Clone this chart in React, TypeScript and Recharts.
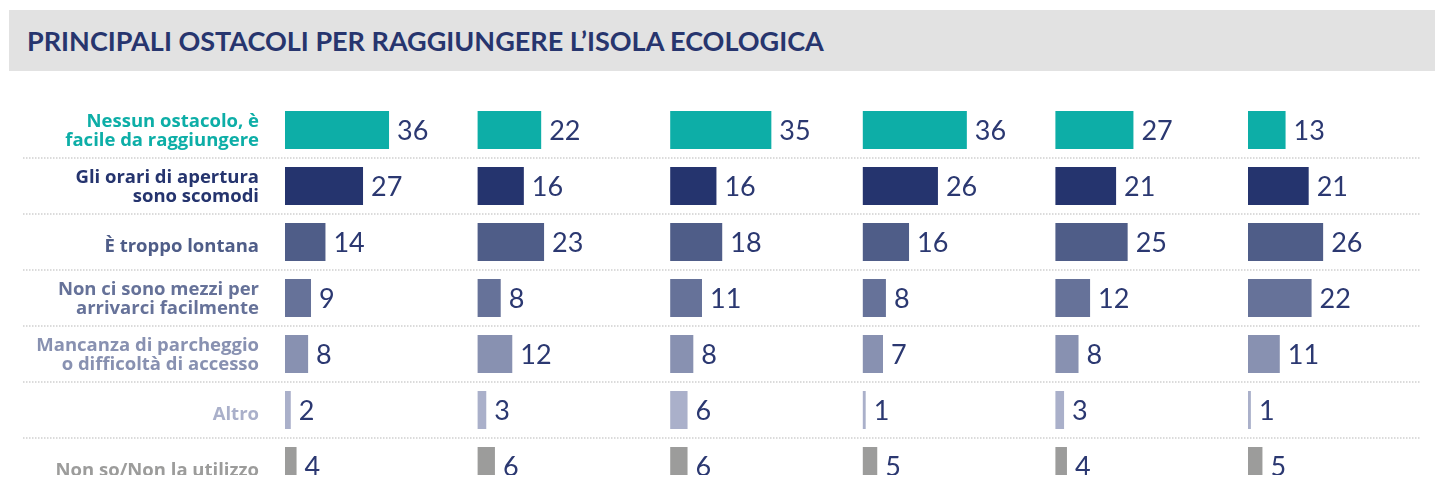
import { Bar, BarChart, CartesianGrid, Cell, LabelList, XAxis, YAxis } from "recharts";

// Obstacle categories (rows), "\n" splits the two-line labels
const CATEGORIES = [
  "Nessun ostacolo, è\nfacile da raggiungere",
  "Gli orari di apertura\nsono scomodi",
  "È troppo lontana",
  "Non ci sono mezzi per\narrivarci facilmente",
  "Mancanza di parcheggio\no difficoltà di accesso",
  "Altro",
  "Non so/Non la utilizzo",
];

// One array per column group, values in %
const COL_1 = [36, 27, 14, 9, 8, 2, 4];
const COL_2 = [22, 16, 23, 8, 12, 3, 6];
const COL_3 = [35, 16, 18, 11, 8, 6, 6];
const COL_4 = [36, 26, 16, 8, 7, 1, 5];
const COL_5 = [27, 21, 25, 12, 8, 3, 4];
const COL_6 = [13, 21, 26, 22, 11, 1, 5];
const COLUMNS = [COL_1, COL_2, COL_3, COL_4, COL_5, COL_6];

const ROW_COLORS = ["#0daea7", "#25346e", "#4f5d88", "#667299", "#8891b1", "#aab0ca", "#9c9c9b"];
const VALUE_COLOR = "#2b3871";
const TITLE_COLOR = "#27356e";
const FONT = "Lato, 'Open Sans', sans-serif";
const LABEL_FONT = "'Open Sans', Lato, sans-serif";

// layout in pixels, converted to axis units below
const W = 1435;
const PLOT_LEFT = 22;
const PLOT_RIGHT = 15;
const PX_PER_UNIT = 2.89;
const FIRST_COL_PX = 262; // from plot left to first bar start
const COL_STEP_PX = 192.6;

const PLOT_W = W - PLOT_LEFT - 1 - PLOT_RIGHT;
const X_MAX = PLOT_W / PX_PER_UNIT;
const colStart = (k: number) => (FIRST_COL_PX + k * COL_STEP_PX) / PX_PER_UNIT;

const rows = CATEGORIES.map((name, i) => {
  const row: Record<string, any> = { name };
  COLUMNS.forEach((col, k) => {
    row[`r${k}`] = [colStart(k), colStart(k) + col[i]];
    row[`v${k}`] = col[i];
  });
  return row;
});

const renderCategoryTick = (props: any) => {
  const { y, payload } = props;
  const idx = CATEGORIES.indexOf(payload.value);
  const lines = String(payload.value).split("\n");
  const textX = 259;
  const first = lines.length === 1 ? 9.5 : -3;
  return (
    <text
      x={textX}
      y={y}
      textAnchor="end"
      fill={ROW_COLORS[idx]}
      fontSize={18.5}
      fontWeight={700}
      fontFamily={LABEL_FONT}
    >
      {lines.map((l, i) => (
        <tspan key={i} x={textX} dy={i === 0 ? first : 18.5}>
          {l}
        </tspan>
      ))}
    </text>
  );
};

export default function App() {
  return (
    <div style={{ margin: -8, width: W, height: 483, overflow: "hidden", position: "relative", background: "#fff" }}>
      <style>{"html,body{overflow:hidden}"}</style>
      <div
        style={{
          position: "fixed",
          left: 9,
          right: 0,
          top: 10,
          height: 61,
          background: "#e2e2e2",
          display: "flex",
          alignItems: "center",
          paddingLeft: 18,
          boxSizing: "border-box",
          fontFamily: FONT,
          fontWeight: 700,
          fontSize: 27,
          color: TITLE_COLOR,
        }}
      >
        PRINCIPALI OSTACOLI PER RAGGIUNGERE L’ISOLA ECOLOGICA
      </div>
      <div style={{ position: "absolute", left: 0, top: 0 }}>
        <BarChart
          width={W}
          height={494}
          data={rows}
          layout="vertical"
          margin={{ top: 102, right: PLOT_RIGHT, bottom: 0, left: PLOT_LEFT }}
          barSize={38}
          barGap={-38}
        >
          <CartesianGrid
            vertical={false}
            stroke="#cfcfcf"
            strokeWidth={1.5}
            strokeDasharray="1.5 1.5"
            horizontalCoordinatesGenerator={({ offset }: any) =>
              CATEGORIES.slice(1).map((_, i) => offset.top + ((i + 1) * offset.height) / CATEGORIES.length)
            }
          />
          <XAxis type="number" domain={[0, X_MAX]} hide />
          <YAxis
            type="category"
            dataKey="name"
            width={1}
            axisLine={false}
            tickLine={false}
            interval={0}
            tick={renderCategoryTick}
          />
          {COLUMNS.map((_, k) => (
            <Bar key={k} dataKey={`r${k}`} isAnimationActive={false}>
              {rows.map((_, i) => (
                <Cell key={i} fill={ROW_COLORS[i]} />
              ))}
              <LabelList
                dataKey={`v${k}`}
                position="right"
                offset={8}
                fill={VALUE_COLOR}
                fontSize={27}
                fontWeight={400}
                fontFamily={FONT}
              />
            </Bar>
          ))}
        </BarChart>
      </div>
    </div>
  );
}
